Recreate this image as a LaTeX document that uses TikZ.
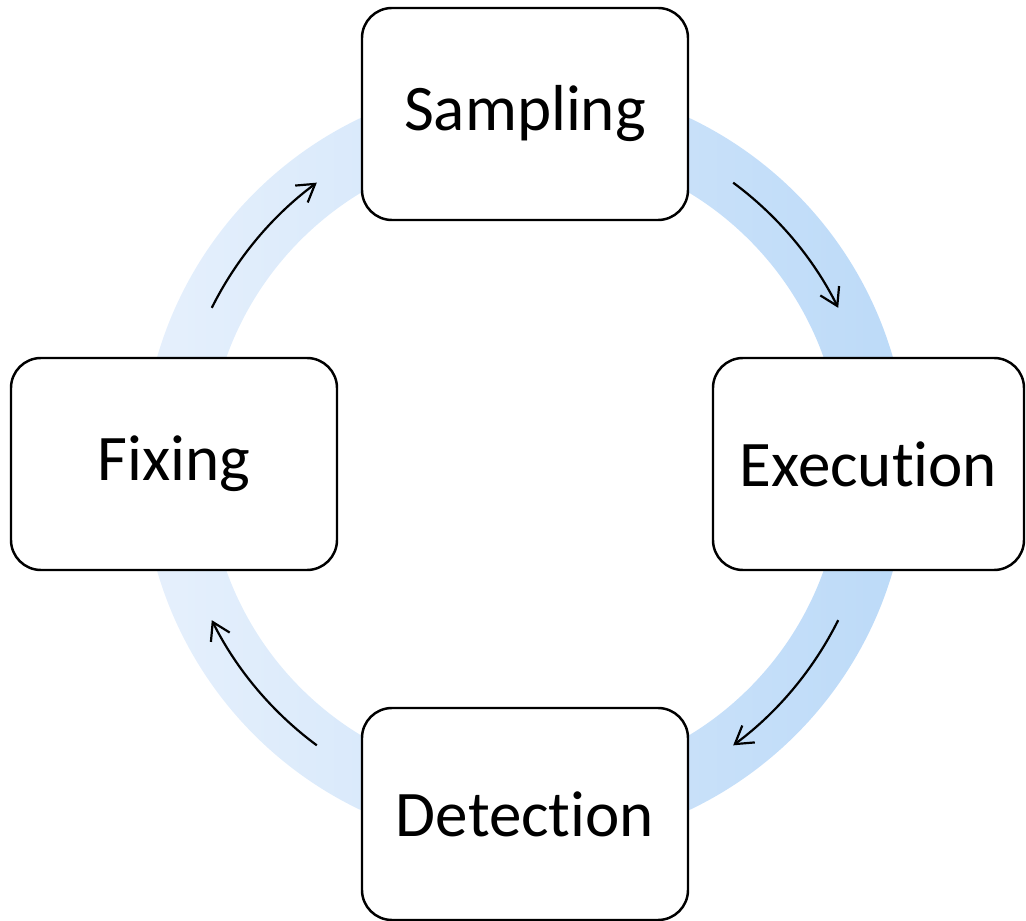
\documentclass[tikz,border=0pt]{standalone}
\usepackage{fontspec}
\setmainfont{Carlito}[Ligatures=NoCommon]
\usepackage{tikz}
\usetikzlibrary{arrows.meta, positioning, calc}
\definecolor{ringleft}{RGB}{230,240,252}
\definecolor{ringright}{RGB}{188,218,248}

\begin{document}
\begin{tikzpicture}[
  box/.style={rectangle, draw, line width=1.4pt, rounded corners=0.6cm, fill=white, minimum width=6.52cm, minimum height=4.24cm, align=center, font=\fontsize{37}{44}\selectfont},
  arrow/.style={line width=1.25pt, -{Straight Barb[length=0.34cm, width=0.42cm]}},
  ring/.style={left color=ringleft, right color=ringright, even odd rule}
]
  \useasboundingbox (-10.5,-9.14) rectangle (10.02,9.28);
  \coordinate (O) at (0,0);
  \shade[ring] (O) circle (7.66) (O) circle (6.34);
  \node[box] (S) at (0,7) {Sampling};
  \node[box, minimum width=6.22cm] (E) at (6.87,0) {Execution};
  \node[box] (D) at (0,-7) {Detection};
  \node[box] (F) at (-7.02,0) {Fixing};
  % arrows along the ring
  \coordinate (SE) at (53.5:7);
  \coordinate (ED) at (-26.5:7);
  \coordinate (DF) at (-126.5:7);
  \coordinate (FS) at (153.5:7);
  \draw[arrow] (SE) arc[start angle=53.5, end angle=26.5, radius=7];
  \draw[arrow] (ED) arc[start angle=-26.5, end angle=-53.5, radius=7];
  \draw[arrow] (DF) arc[start angle=-126.5, end angle=-153.5, radius=7];
  \draw[arrow] (FS) arc[start angle=153.5, end angle=126.5, radius=7];
\end{tikzpicture}
\end{document}
